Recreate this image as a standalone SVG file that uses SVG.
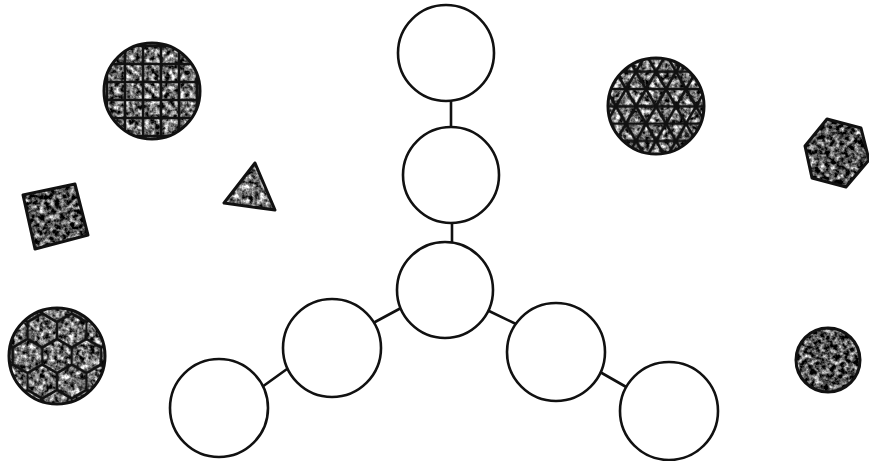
<svg xmlns="http://www.w3.org/2000/svg" width="869" height="461" viewBox="0 0 869 461">
  <style>
    .node { fill: #ffffff; stroke: #111111; stroke-width: 2.6; }
    .edge { stroke: #111111; stroke-width: 2.6; fill: none; stroke-linecap: round; }
    .tex { fill: #000000; filter: url(#mottle); }
    .texd { fill: #000000; filter: url(#mottleDark); }
    .outline { fill: none; stroke: #111111; stroke-width: 3; stroke-linejoin: round; }
    .patt { fill: none; stroke: #111111; stroke-width: 2.6; }
  </style>
  <defs>
    <filter id="mottle" x="-10%" y="-10%" width="120%" height="120%" color-interpolation-filters="sRGB">
      <feTurbulence type="fractalNoise" baseFrequency="0.2" numOctaves="3" seed="3" result="n"/>
      <feColorMatrix in="n" type="matrix" values="2 0 0 0 -0.55  2 0 0 0 -0.55  2 0 0 0 -0.55  0 0 0 0 1" result="g"/>
      <feComposite in="g" in2="SourceGraphic" operator="in"/>
    </filter>
    <filter id="mottleDark" x="-10%" y="-10%" width="120%" height="120%" color-interpolation-filters="sRGB">
      <feTurbulence type="fractalNoise" baseFrequency="0.2" numOctaves="3" seed="7" result="n"/>
      <feColorMatrix in="n" type="matrix" values="2 0 0 0 -0.68  2 0 0 0 -0.68  2 0 0 0 -0.68  0 0 0 0 1" result="g"/>
      <feComposite in="g" in2="SourceGraphic" operator="in"/>
    </filter>
    <pattern id="grid" patternUnits="userSpaceOnUse" x="143" y="82" width="18" height="18">
      <path class="patt" d="M-1 0 H19 M0 -1 V19 M-1 18 H19 M18 -1 V19"/>
    </pattern>
    <pattern id="tri" patternUnits="userSpaceOnUse" x="646" y="89" width="20" height="34.64">
      <path class="patt" d="M-1 0 H21 M-1 17.32 H21 M-1 34.64 H21 M0 34.64 L20 0 M0 0 L20 34.64 M-10 17.32 L0 0 M20 34.64 L30 17.32 M-10 17.32 L0 34.64 M20 0 L30 17.32"/>
    </pattern>
    <pattern id="hex" patternUnits="userSpaceOnUse" x="57" y="356" width="29.44" height="51">
      <path class="patt" d="M14.72 -1 V8.5 L0 17 V34 L14.72 42.5 V52 M14.72 8.5 L29.44 17 V34 L14.72 42.5"/>
    </pattern>
    <clipPath id="cGrid"><circle cx="152" cy="91" r="48"/></clipPath>
    <clipPath id="cTri"><circle cx="656" cy="106" r="48"/></clipPath>
    <clipPath id="cHex"><circle cx="57" cy="356" r="48"/></clipPath>
  </defs>

  <g id="connectors">
    <line class="edge" x1="451" y1="100" x2="451" y2="128"/>
    <line class="edge" x1="452" y1="222" x2="452" y2="244"/>
    <line class="edge" x1="401" y1="308" x2="375" y2="322"/>
    <line class="edge" x1="287" y1="369" x2="262" y2="387"/>
    <line class="edge" x1="489" y1="311" x2="516" y2="324"/>
    <line class="edge" x1="600" y1="372" x2="628" y2="388"/>
  </g>

  <g id="node-top"><circle class="node" cx="446" cy="53" r="48"/></g>
  <g id="node-upper"><circle class="node" cx="451" cy="175" r="48"/></g>
  <g id="node-center"><circle class="node" cx="445" cy="290" r="48"/></g>
  <g id="node-left"><circle class="node" cx="332" cy="348" r="49"/></g>
  <g id="node-far-left"><circle class="node" cx="219" cy="408" r="49"/></g>
  <g id="node-right"><circle class="node" cx="556" cy="352" r="49"/></g>
  <g id="node-far-right"><circle class="node" cx="669" cy="411" r="49"/></g>

  <g id="grid-ball">
    <circle class="tex" cx="152" cy="91" r="48"/>
    <rect x="100" y="40" width="104" height="104" fill="url(#grid)" clip-path="url(#cGrid)"/>
    <circle class="outline" cx="152" cy="91" r="48"/>
  </g>
  <g id="triangle-ball">
    <circle class="tex" cx="656" cy="106" r="48"/>
    <rect x="604" y="54" width="104" height="104" fill="url(#tri)" clip-path="url(#cTri)"/>
    <circle class="outline" cx="656" cy="106" r="48"/>
  </g>
  <g id="hex-ball">
    <circle class="tex" cx="57" cy="356" r="48"/>
    <rect x="5" y="304" width="104" height="104" fill="url(#hex)" clip-path="url(#cHex)"/>
    <circle class="outline" cx="57" cy="356" r="48"/>
  </g>
  <g id="square">
    <polygon class="texd" points="23,195 75,184 88,235 35,249"/>
    <polygon class="outline" points="23,195 75,184 88,235 35,249"/>
  </g>
  <g id="triangle">
    <polygon class="tex" points="255,163 224,203 275,210"/>
    <polygon class="outline" points="255,163 224,203 275,210"/>
  </g>
  <g id="hexagon">
    <polygon class="texd" points="827,119 861,128 869,160 846,187 812,178 805,146"/>
    <polygon class="outline" points="827,119 861,128 869,160 846,187 812,178 805,146"/>
  </g>
  <g id="dark-ball">
    <circle class="texd" cx="828" cy="360" r="32"/>
    <circle class="outline" cx="828" cy="360" r="32"/>
  </g>
</svg>
